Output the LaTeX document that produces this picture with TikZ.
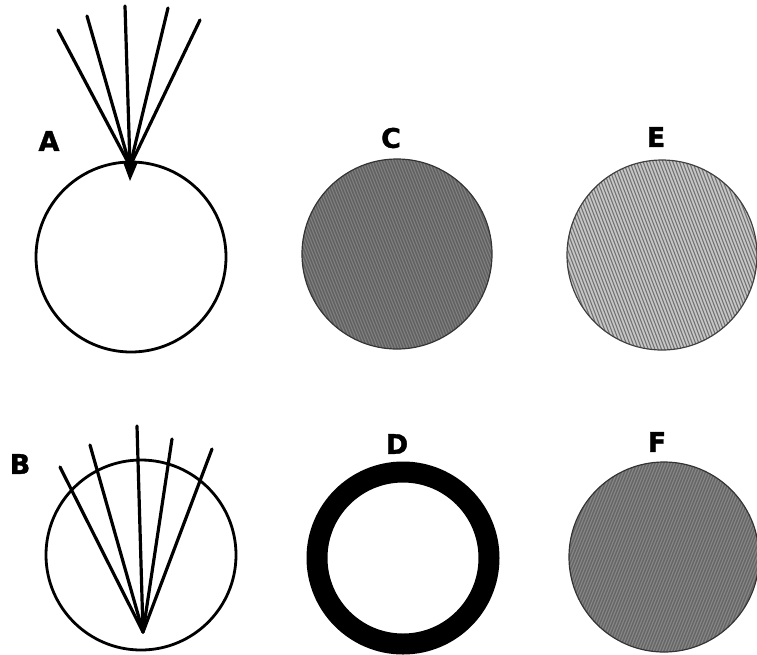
\documentclass[tikz,border=0pt]{standalone}
\usepackage{fontspec}
\setmainfont{DejaVu Sans}
\newfontfamily\lblfont[FakeBold=1.4]{DejaVu Sans Bold}
\begin{document}
\begin{tikzpicture}[x=1pt,y=-1pt,
  ray/.style={line width=3.2pt,line cap=round},
  rim/.style={line width=2.8pt},
  lbl/.style={font=\fontsize{27}{27}\lblfont,inner sep=0pt},
  hatch/.style={line width=1.1pt}]
\useasboundingbox (0,0) rectangle (757,654);
% labels
\node[lbl] (la) at (49,141) {A};
\node[lbl] (lb) at (20,464) {B};
\node[lbl] (lc) at (391,138) {C};
\node[lbl] (ld) at (397,444) {D};
\node[lbl] (le) at (656,137) {E};
\node[lbl] (lf) at (657,442) {F};
% A
\draw[rim] (131,257) circle (95);
\coordinate (ap) at (130,166);
\foreach \e in {(58,30),(87,16),(125,6),(168,8),(200,20)}
  \draw[ray] (ap) -- \e;
\fill (123,162) -- (138,162) -- (130,181) -- cycle;
% B
\draw[rim] (141,555) circle (95);
\coordinate (bp) at (143,632);
\foreach \e in {(60,467),(90,445),(137,426),(172,439),(212,449)}
  \draw[ray] (bp) -- \e;
% C
\fill[black!62] (397,254) circle (95);
\begin{scope}
  \clip (397,254) circle (95);
  \foreach \i in {-70,...,70}
    \draw[hatch,black!50] ({397+3*\i-40},154) -- ({397+3*\i+40},354);
\end{scope}
\draw[line width=1.2pt,black!80] (397,254) circle (95);
% D
\draw[line width=21pt] (403,558) circle (86);
% E
\fill[black!22] (662,255) circle (95);
\begin{scope}
  \clip (662,255) circle (95);
  \foreach \i in {-70,...,70}
    \draw[hatch,black!55] ({662+3.3*\i-38},155) -- ({662+3.3*\i+38},355);
\end{scope}
\draw[line width=1.2pt,black!75] (662,255) circle (95);
% F
\fill[black!60] (664,557) circle (95);
\begin{scope}
  \clip (664,557) circle (95);
  \foreach \i in {-70,...,70}
    \draw[hatch,black!47] ({664+3*\i+40},457) -- ({664+3*\i-40},657);
\end{scope}
\draw[line width=1.2pt,black!80] (664,557) circle (95);
\end{tikzpicture}
\end{document}
